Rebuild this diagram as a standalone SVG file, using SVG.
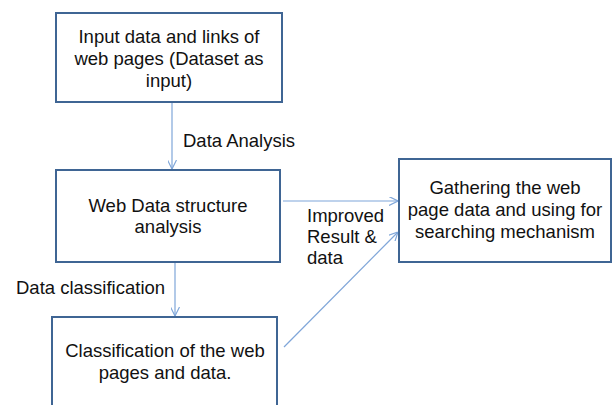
<svg xmlns="http://www.w3.org/2000/svg" width="614" height="405" viewBox="0 0 614 405">
<style>
.box{fill:#fff;stroke:#3F6594;stroke-width:2}
.t{font-family:"Liberation Sans",Arial,sans-serif;font-size:18.5px;fill:#111}
.c{text-anchor:middle}
.ln{stroke:#7FA6D9;stroke-width:1.2;fill:none}
</style>
<defs>
<marker id="ah" viewBox="0 0 10 10" refX="10" refY="5" markerWidth="9" markerHeight="9" markerUnits="userSpaceOnUse" orient="auto">
<path d="M0,0 L10,5 L0,10" fill="none" stroke="#7FA6D9" stroke-width="1.3"/>
</marker>
</defs>
<rect width="614" height="405" fill="#fff"/>
<g id="connectors">
<line class="ln" x1="172" y1="103" x2="172" y2="169" marker-end="url(#ah)"/>
<line class="ln" x1="175" y1="263" x2="175" y2="316" marker-end="url(#ah)"/>
<line class="ln" x1="283" y1="201" x2="398" y2="201" marker-end="url(#ah)"/>
<line class="ln" x1="284" y1="347" x2="398" y2="232" marker-end="url(#ah)"/>
<text class="t" x="183" y="147">Data Analysis</text>
<text class="t" x="16" y="294">Data classification</text>
<text class="t" x="307" y="222">Improved</text>
<text class="t" x="307" y="243">Result &amp;</text>
<text class="t" x="307" y="264">data</text>
</g>
<g id="node1">
<rect class="box" x="56" y="13" width="226" height="89"/>
<text class="t c" x="169" y="43">Input data and links of</text>
<text class="t c" x="169" y="65">web pages (Dataset as</text>
<text class="t c" x="169" y="87">input)</text>
</g>
<g id="node2">
<rect class="box" x="56" y="170" width="224" height="92"/>
<text class="t c" x="168" y="212">Web Data structure</text>
<text class="t c" x="168" y="233">analysis</text>
</g>
<g id="node3">
<rect class="box" x="52" y="317" width="225" height="100"/>
<text class="t c" x="165" y="357">Classification of the web</text>
<text class="t c" x="165" y="379">pages and data.</text>
</g>
<g id="node4">
<rect class="box" x="399" y="159" width="212" height="103"/>
<text class="t c" x="505" y="194">Gathering the web</text>
<text class="t c" x="505" y="216">page data and using for</text>
<text class="t c" x="505" y="238">searching mechanism</text>
</g>
</svg>
